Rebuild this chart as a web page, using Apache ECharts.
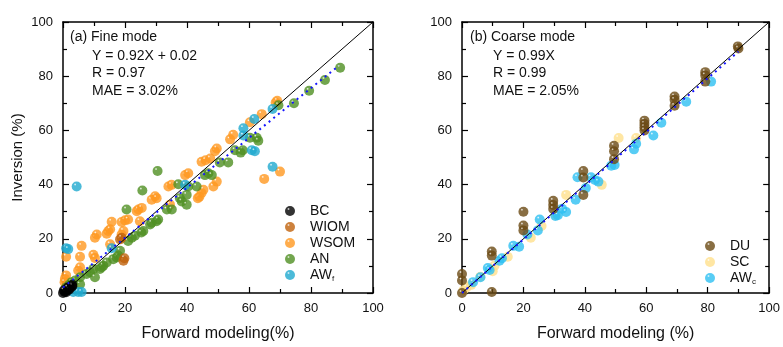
<!DOCTYPE html>
<html><head><meta charset="utf-8">
<script src="https://cdn.jsdelivr.net/npm/echarts@6/dist/echarts.min.js"></script>
<style>html,body{margin:0;padding:0;background:#fff}#c{width:783px;height:347px}</style>
</head><body><div id="c"></div>
<script>
// ---------- data (percent) ----------
const tickLabels = [0, 20, 40, 60, 80, 100];

// (a) Fine mode
const fineBC = [[0,0],[0.5,0.5],[1,1],[1.5,1],[2,2],[2.5,2],[3,3],[1,0.3],[0.3,1],[2,1.3],[3,2.5],[1.5,2]];
const fineWIOM = [[18.4,19.8],[18.9,20.4],[19.5,11.9],[19.8,12.8]];
const fineWSOM = [[0.6,5.2],[1,6.5],[0.5,4],[1,13.4],[4.9,8.3],[5.5,9.5],[5.5,13.4],[6,17.4],[9.8,14.1],[10.3,12.9],[10.3,20.4],[10.9,21.6],[14.1,21.9],[14.6,22.9],[15.2,23.5],[15.2,18],[15.7,26.3],[18.9,21.6],[19.5,22.9],[18.9,26.2],[20,26.8],[21,27.1],[23.8,30.2],[24.3,30.8],[25.4,31.4],[24.8,26.5],[28.6,34.4],[29.7,35.7],[30.2,35],[34.5,32.6],[34,39.3],[35,39.9],[39.4,43.5],[40.4,44.2],[43.5,35],[44,35.5],[44.7,36.9],[45.3,38.1],[44.7,48.4],[46,49],[47.5,49.6],[48.5,39.3],[49.6,41.1],[49,52.3],[49.6,53.3],[53.9,56.7],[54.9,58.4],[60.3,63],[64.1,66],[68.6,70.3],[69.1,70.9],[64.9,42.1],[70,44.8]];
const fineAN = [[1,2],[2,3],[1.5,1.5],[2.8,4],[3.9,4.6],[5.5,5.8],[5.5,3.2],[7.6,7],[8.7,7.7],[9.8,8.9],[10.3,5.8],[11.9,8.9],[12.5,9.5],[13,10.1],[14.1,11.3],[16.2,12.5],[17.3,13.1],[17.8,13.8],[18.4,15.6],[21,19.2],[22.2,20.4],[23.2,21.1],[25.9,22.9],[25.3,22.3],[20.5,30.8],[25.6,37.8],[30.5,45],[28.1,25.3],[28.6,25.9],[30.2,26.5],[30.7,27.1],[33.5,30.8],[35.1,30.8],[37.7,35],[38.3,33.8],[39.9,32.6],[39.9,36.2],[37.2,40.1],[40.4,39.3],[43.1,39.3],[45.8,43.5],[46.9,44.2],[48,43.5],[50.6,48.2],[53.3,48.2],[55.5,52.7],[58,52.7],[57.3,51.8],[60.3,57.3],[62.5,57.3],[63,56.2],[69.5,69.3],[74.5,70],[79.4,74.6],[84.5,78.6],[89.4,83.1]];
const fineAWf = [[1,16.5],[1.7,16.2],[3.3,0.4],[4.9,0.4],[6,0.4],[4.4,39.3],[15.7,16.5],[39.4,39.9],[58.2,60.8],[58.2,58.1],[61.7,64.2],[60.9,52.7],[61.9,52.3],[67.6,67.9],[67.6,46.6]];
const fineFit = [[0,2],[89,83.9]];

// (b) Coarse mode
const coarseDU = [[0,0],[0,7],[0,4.6],[9.7,0.4],[9.7,15.3],[9.7,13.8],[20,30],[20,24.9],[20,23.1],[29.7,34],[29.7,32.5],[29.7,31],[39.5,45],[39.5,42.6],[39.5,36.2],[49.5,54.3],[49.5,52.3],[49.5,49.4],[59.4,63.6],[59.4,62.4],[59.4,61.2],[59.4,60],[69.2,72.5],[69.2,71.3],[69.2,69.1],[79.2,81.5],[79.2,80.3],[79.2,78],[89.8,91],[90,90.2]];
const coarseSC = [[0.5,1],[1.5,2],[3,3],[6,6],[10,8],[10.6,10.1],[14.9,13.4],[22.4,20.4],[25.9,24.7],[30.5,28.7],[33.9,36.2],[45.5,39.9],[51,57.2],[56.7,57.2]];
const coarseAWc = [[3.6,4],[6,5.8],[8.4,9.2],[9,8.5],[12.2,11.9],[13,12.8],[16.7,17.4],[18.6,17.1],[21.3,21.6],[24.7,23.1],[25.3,27.1],[30.4,28.4],[31.2,28.7],[32.6,31.1],[33.9,29.9],[37,34.4],[37.6,42.7],[40.3,38.7],[42,42.7],[43.3,41.7],[44.4,41.1],[48.6,47],[49.7,47.2],[56,53],[56.7,55.1],[62.3,58.1],[64.9,62.8],[73,70.6],[81.1,78]];
const coarseFit = [[0,0],[90,89.1]];
const oneToOne = [[0,0],[100,100]];

// ---------- chart ----------
const FONT = '"Liberation Sans", Arial, sans-serif';
function ball(c) {
  return {type:'radial', x:0.35, y:0.3, r:0.75, colorStops:[
    {offset:0, color:'#ffffff'}, {offset:0.18, color:c}, {offset:1, color:c}]};
}
function scatter(name, data, color, gi) {
  return {name, type:'scatter', data, xAxisIndex:gi*2, yAxisIndex:gi*2,
    symbolSize:10, itemStyle:{color:ball(color)}, z:2, emphasis:{disabled:true}};
}
function line(data, gi, color, type, width, name) {
  return {type:'line', data, xAxisIndex:gi*2, yAxisIndex:gi*2, showSymbol:false, symbol:'none',
    lineStyle:{color, type, width}, z:5, silent:true, animation:false};
}
const axisCommon = {
  min:0, max:100, interval:20,
  axisLine:{show:true, onZero:false, lineStyle:{color:'#000', width:1.5}},
  axisTick:{show:true, inside:true, length:6, lineStyle:{color:'#000', width:1.2}},
  minorTick:{show:true, splitNumber:2, length:4, lineStyle:{color:'#000', width:1.2}},
  splitLine:{show:false}, minorSplitLine:{show:false},
  axisLabel:{color:'#111', fontSize:13, fontFamily:FONT, margin:9,
    formatter:(v)=> tickLabels.includes(v) ? String(v) : ''}
};
function xAx(gi, pos, name) {
  const a = Object.assign({}, axisCommon, {type:'value', gridIndex:gi, position:pos});
  if (pos === 'top') { a.axisLabel = {show:false}; }
  else { a.name = name; a.nameLocation='middle'; a.nameGap=33;
    a.nameTextStyle={color:'#111', fontSize:16, fontFamily:FONT}; }
  return a;
}
function yAx(gi, pos, name) {
  const a = Object.assign({}, axisCommon, {type:'value', gridIndex:gi, position:pos});
  a.axisLabel = Object.assign({}, axisCommon.axisLabel, {margin:10});
  if (pos === 'right') { a.axisLabel = {show:false}; }
  else if (name) { a.name = name; a.nameLocation='middle'; a.nameGap=38;
    a.nameTextStyle={color:'#111', fontSize:15, fontFamily:FONT}; }
  return a;
}
const subFmt = (n) => {
  if (n === 'AWf') return '{m|AW}{s|f}';
  if (n === 'AWc') return '{m|AW}{s|c}';
  return '{m|' + n + '}';
};
const legRich = {m:{fontSize:14, fontFamily:FONT, color:'#111'}, s:{fontSize:8, fontFamily:FONT, color:'#111', padding:[7,0,0,0]}};
const annot = (x, y, t) => ({type:'text', left:x, top:y, style:{text:t, font:'14px ' + FONT, fill:'#111'}});

const chart = echarts.init(document.getElementById('c'), null, {renderer:'canvas'});
chart.setOption({
  animation:false,
  backgroundColor:'#fff',
  grid:[{left:63, top:22, width:310, height:274}, {left:462, top:22, width:311, height:274}],
  xAxis:[xAx(0,'bottom','Forward modeling(%)'), xAx(0,'top'), xAx(1,'bottom','Forward modeling (%)'), xAx(1,'top')],
  yAxis:[yAx(0,'left','Inversion (%)'), yAx(0,'right'), yAx(1,'left',''), yAx(1,'right')],
  legend:[
    {data:['BC','WIOM','WSOM','AN','AWf'], orient:'vertical', left:280, top:199, itemWidth:30, itemHeight:10, itemGap:2,
     icon:'circle', formatter:subFmt, textStyle:{rich:legRich, fontSize:14, fontFamily:FONT}, selectedMode:false},
    {data:['DU','SC','AWc'], orient:'vertical', left:700, top:234, itemWidth:30, itemHeight:10, itemGap:2,
     icon:'circle', formatter:subFmt, textStyle:{rich:legRich, fontSize:14, fontFamily:FONT}, selectedMode:false}
  ],
  graphic:[
    annot(70, 30, '(a) Fine mode'), annot(92, 49, 'Y = 0.92X + 0.02'), annot(92, 66, 'R = 0.97'), annot(92, 84, 'MAE = 3.02%'),
    annot(470, 30, '(b) Coarse mode'), annot(493, 49, 'Y = 0.99X'), annot(493, 66, 'R = 0.99'), annot(493, 84, 'MAE = 2.05%')
  ],
  series:[
    scatter('WSOM', fineWSOM, '#ff9820', 0),
    scatter('AN', fineAN, '#4f8f22', 0),
    scatter('WIOM', fineWIOM, '#c0620c', 0),
    scatter('AWf', fineAWf, '#1fa9cf', 0),
    scatter('BC', fineBC, '#000000', 0),
    line(oneToOne, 0, '#000', 'solid', 1),
    line(fineFit, 0, '#1515ff', [2,4], 2),
    scatter('SC', coarseSC, '#ffe08c', 1),
    scatter('AWc', coarseAWc, '#2ec0f2', 1),
    scatter('DU', coarseDU, '#6b4a14', 1),
    line(oneToOne, 1, '#000', 'solid', 1),
    line(coarseFit, 1, '#1515ff', [2,4], 2)
  ]
});
</script></body></html>
